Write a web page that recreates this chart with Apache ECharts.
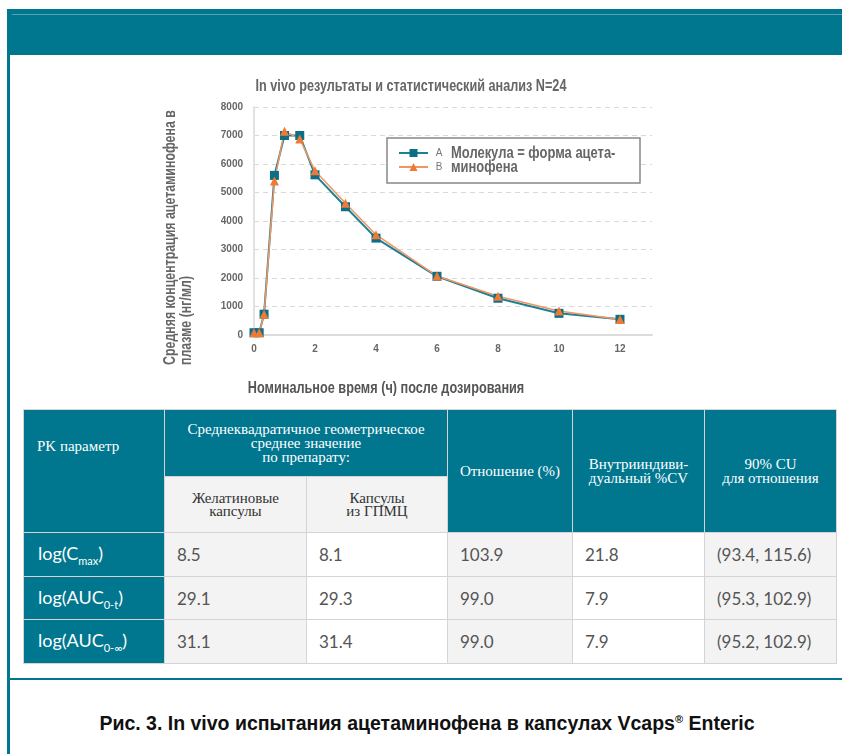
<!DOCTYPE html>
<html>
<head>
<meta charset="utf-8">
<script src="https://cdn.jsdelivr.net/npm/echarts@6/dist/echarts.min.js"></script>
<style>
	body{margin:0;width:842px;height:754px;position:relative;background:#fff;overflow:hidden;font-family:Lato,'Liberation Sans',sans-serif}
	.bar{position:absolute;left:7px;top:9px;width:835px;height:46px;background:#00768f}
	.bar i{position:absolute;left:5px;right:0;top:5px;height:1px;background:#5aa3b5}
	.lside{position:absolute;left:7px;top:55px;width:3px;height:699px;background:#00768f}
	.hline{position:absolute;left:7px;top:678px;width:835px;height:2px;background:#00768f}
	#chart{position:absolute;left:0;top:0;width:842px;height:405px}
	table{position:absolute;left:23px;top:409px;border-collapse:collapse;table-layout:fixed}
	td{border:1px solid #d4d4d4;padding:0;box-sizing:border-box}
	.h{background:#00768f;color:#fff;font-family:'Liberation Serif',serif;font-size:15px;line-height:14px;text-align:center;vertical-align:middle}
	.s{background:#f3f3f3;color:#333;font-family:'Liberation Serif',serif;font-size:15px;line-height:13px;text-align:center}
	.lab{background:#00768f;color:#fff;font-size:18px;padding-left:14px}
	.lab sub{font-size:11px;vertical-align:-5px}
	.v{color:#555;font-size:17px;padding-left:12px}
	.g{background:#f3f3f3}
	.cap{position:absolute;left:12px;width:830px;top:712px;text-align:center;font-family:'Liberation Sans',sans-serif;font-weight:bold;font-size:19.5px;color:#111}
	.cap sup{font-size:11px}
</style>
</head>
<body>
<div class="bar"><i></i></div>
<div class="lside"></div>
<div id="chart"></div>
<table id="tbl">
	<colgroup><col style="width:141px"><col style="width:142px"><col style="width:141px"><col style="width:125px"><col style="width:132px"><col style="width:132px"></colgroup>
	<tr style="height:67px">
		<td class="h" rowspan="2" style="text-align:left;vertical-align:top;padding:29px 0 0 13px">PK параметр</td>
		<td class="h" colspan="2">Среднеквадратичное геометрическое<br>среднее значение<br>по препарату:</td>
		<td class="h" rowspan="2">Отношение (%)</td>
		<td class="h" rowspan="2">Внутрииндиви-<br>дуальный %CV</td>
		<td class="h" rowspan="2">90% CU<br>для отношения</td>
	</tr>
	<tr style="height:56px">
		<td class="s">Желатиновые<br>капсулы</td>
		<td class="s">Капсулы<br>из ГПМЦ</td>
	</tr>
</table>
<div class="hline"></div>
<div class="cap">Рис. 3. In vivo испытания ацетаминофена в капсулах Vcaps<sup>®</sup> Enteric</div>
<script>
// plasma curve
var times = [0, 0.17, 0.33, 0.67, 1, 1.5, 2, 3, 4, 6, 8, 10, 12];
var seriesA = [80, 80, 730, 5600, 7000, 7000, 5620, 4500, 3400, 2060, 1290, 760, 550];
var seriesB = [80, 80, 730, 5400, 7150, 6880, 5760, 4620, 3520, 2070, 1360, 840, 540];
var seriesNames = ['A', 'B'];

// table
var paramSubs = ['max', '0-t', '0-∞'];
var paramBase = ['C', 'AUC', 'AUC'];
var gelatin = [8.5, 29.1, 31.1];
var hpmc = [8.1, 29.3, 31.4];
var ratio = [103.9, 99.0, 99.0];
var cv = [21.8, 7.9, 7.9];
var ci = ['(93.4, 115.6)', '(95.3, 102.9)', '(95.2, 102.9)'];

var rowH = [44, 43, 44];
var tbl = document.getElementById('tbl');
for(var i = 0; i < paramBase.length; i++){
	var tr = document.createElement('tr');
	tr.style.height = rowH[i] + 'px';
	tr.innerHTML =
		'<td class="lab">log(' + paramBase[i] + '<sub>' + paramSubs[i] + '</sub>)</td>' +
		'<td class="v g">' + gelatin[i].toFixed(1) + '</td>' +
		'<td class="v">' + hpmc[i].toFixed(1) + '</td>' +
		'<td class="v g">' + ratio[i].toFixed(1) + '</td>' +
		'<td class="v">' + cv[i].toFixed(1) + '</td>' +
		'<td class="v g">' + ci[i] + '</td>';
	tbl.appendChild(tr);
}

function pairs(vals){
	return times.map(function(t, k){ return [t, vals[k]]; });
}
// no condensed face installed, so squeeze the bold sans horizontally
function txt(s, x, y, opts){
	opts = opts || {};
	return {
		type: 'text', x: x, y: y, z: 60,
		rotation: opts.rot || 0, scaleX: opts.sx || 0.77,
		style: {text: s, fill: opts.color || '#666', fontSize: 16.5, fontWeight: 'bold', fontFamily: 'Liberation Sans',
			align: opts.align || 'left', verticalAlign: 'middle'}
	};
}

var chart = echarts.init(document.getElementById('chart'));
chart.setOption({
	animation: false,
	grid: {left: 254, top: 107, width: 398, height: 228},
	xAxis: {
		type: 'value', min: 0, max: 13.05, interval: 2,
		axisLine: {lineStyle: {color: '#dcdcdc', width: 2}},
		axisTick: {show: false},
		splitLine: {show: false},
		axisLabel: {showMaxLabel: false, margin: 9, fontSize: 10, color: '#666', fontWeight: 'bold', fontFamily: 'Liberation Sans'}
	},
	yAxis: {
		type: 'value', min: 0, max: 8000, interval: 1000, offset: 4,
		axisLine: {show: true, lineStyle: {color: '#e2e2e2', width: 2}},
		axisTick: {show: false},
		splitLine: {lineStyle: {color: '#d9d9d9', type: [5, 4]}},
		axisLabel: {margin: 7, fontSize: 10, color: '#666', fontWeight: 'bold', fontFamily: 'Liberation Sans',
			formatter: function(v){ return String(v); }}
	},
	legend: {
		data: seriesNames, orient: 'vertical', left: 398, top: 148, padding: 0,
		itemWidth: 29, itemHeight: 10, itemGap: 4, z: 60,
		formatter: function(n){ return ' ' + n; },
		textStyle: {fontSize: 10, color: '#777', fontFamily: 'Liberation Sans'}
	},
	graphic: [
		txt('In vivo результаты и статистический анализ N=24', 411, 86, {align: 'center', sx: 0.767}),
		txt('Средняя концентрация ацетаминофена в', 170, 365, {rot: Math.PI / 2, sx: 0.75}),
		txt('плазме (нг/мл)', 186, 365, {rot: Math.PI / 2, sx: 0.75}),
		txt('Номинальное время (ч) после дозирования', 386, 388, {align: 'center', sx: 0.77, color: '#555'}),
		{type: 'rect', z: 50, shape: {x: 387, y: 138, width: 253, height: 45}, style: {fill: '#fff', stroke: '#888', lineWidth: 1.5}},
		txt('Молекула = форма ацета-', 451, 153, {sx: 0.785}),
		txt('минофена', 451, 167, {sx: 0.785})
	],
	series: [
		{
			name: 'A', type: 'line', data: pairs(seriesA),
			symbol: 'rect', symbolSize: 9,
			itemStyle: {color: '#0d6f86'},
			lineStyle: {color: '#1a8096', width: 2}
		},
		{
			name: 'B', type: 'line', data: pairs(seriesB),
			symbol: 'triangle', symbolSize: 9,
			itemStyle: {color: '#ee7a35'},
			lineStyle: {color: '#f29560', width: 1.5}
		}
	]
});
</script>
</body>
</html>
